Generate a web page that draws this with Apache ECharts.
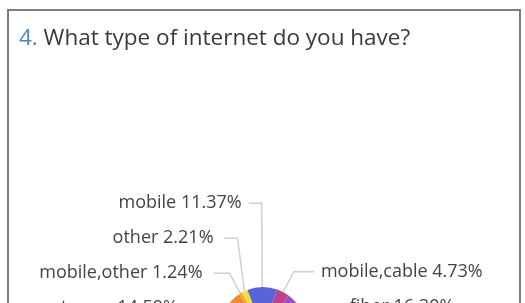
<!DOCTYPE html>
<html>
<head>
<meta charset="utf-8">
<script src="https://cdn.jsdelivr.net/npm/echarts@6/dist/echarts.min.js"></script>
<style>
html,body{margin:0;padding:0;background:#fff;overflow:hidden;}
#frame{position:absolute;left:7px;top:9px;width:510px;height:420px;border:2px solid #7d7d7d;pointer-events:none;z-index:2;}
#chart{position:absolute;left:0;top:0;width:525px;height:362px;}
</style>
</head>
<body>
<div id="chart"></div>
<div id="frame"></div>
<script>
const titleNumber = '4.';
const titleText = 'What type of internet do you have?';
const categories = ['mobile', 'mobile,cable', 'fiber', 'cable', 'not_sure', 'mobile,other', 'other'];
const percents = [11.37, 4.73, 16.30, 49.56, 14.59, 1.24, 2.21];
const colors = ['#5a63d8', '#c0418c', '#9b4fc0', '#3fa0d8', '#f08a34', '#f5a83a', '#f0e03a'];
// label line lengths and label padding per slice (style only)
const lineLen = [30, 23, 30, 30, 21, 0, 1];
const lineLen2 = [13, 20, 16, 16, 16, 16, 13];
const labelPad = [2, 2, 2, 6, 6, 6, 6];

const chart = echarts.init(document.getElementById('chart'));
chart.setOption({
  animation: false,
  title: {
    text: '{n|' + titleNumber + '}{t| ' + titleText + '}',
    left: 14,
    top: 22,
    textStyle: {
      rich: {
        n: {fontSize: 22.5, color: '#4f86c6', fontFamily: 'Open Sans', fontWeight: 'normal'},
        t: {fontSize: 22.5, color: '#3a3a3a', fontFamily: 'Open Sans', fontWeight: 'normal'}
      }
    }
  },
  series: [{
    type: 'pie',
    center: [263, 330],
    radius: 43,
    startAngle: 111.5,
    clockwise: true,
    avoidLabelOverlap: true,
    data: categories.map((c, i) => ({
      name: c,
      value: percents[i],
      itemStyle: {color: colors[i]},
      label: {padding: [0, labelPad[i]]},
      labelLine: {length: lineLen[i], length2: lineLen2[i]}
    })),
    label: {
      formatter: p => p.name + ' ' + p.value.toFixed(2) + '%',
      fontSize: 18,
      fontFamily: 'Open Sans',
      color: '#444',
      lineHeight: 33
    },
    labelLine: {
      lineStyle: {color: '#cfcfcf', width: 1.5}
    }
  }]
});
</script>
</body>
</html>
